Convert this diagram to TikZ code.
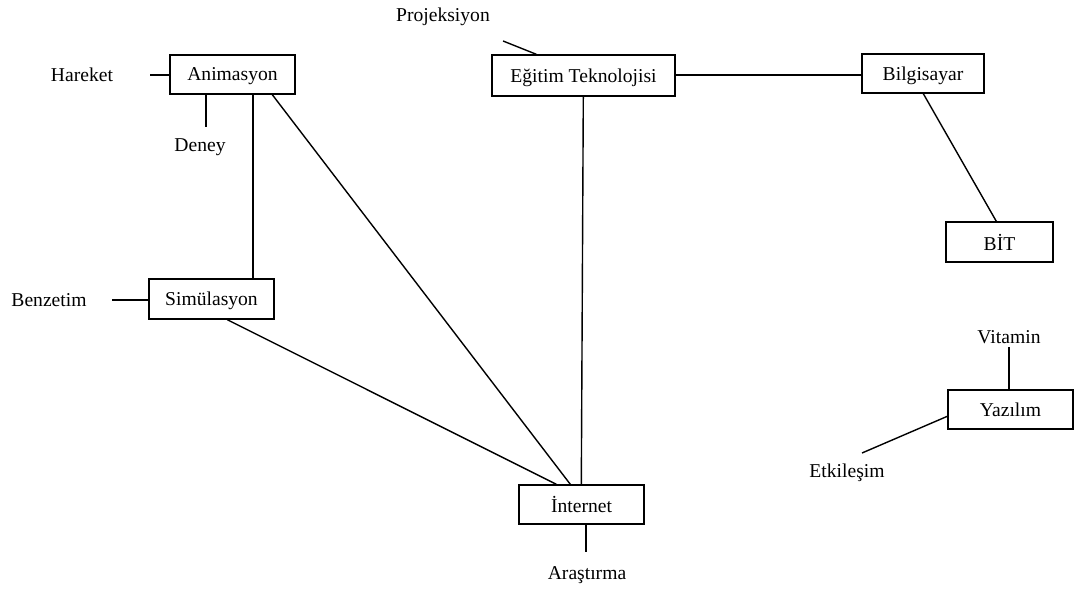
\documentclass[tikz,border=0pt]{standalone}
\usepackage{fontspec}
\setmainfont{Liberation Serif}
\usetikzlibrary{calc}
\begin{document}
\begin{tikzpicture}[x=0.5pt,y=-0.5pt,
  every node/.style={font=\fontsize{9.8pt}{11pt}\selectfont},
  concept/.style={draw,line width=0.7pt,rectangle,inner sep=0pt,text depth=0pt,anchor=center},
  term/.style={inner sep=0pt,anchor=center},
  link/.style={line width=0.7pt}]
\useasboundingbox (0,0) rectangle (1074,588);

% main concepts in boxes
\node[concept,minimum width=62.5pt,minimum height=19.5pt] (anim) at (232.5,74.5) {Animasyon};
\node[concept,minimum width=91.5pt,minimum height=20.5pt] (egt)  at (583.5,75.5) {Eğitim Teknolojisi};
\node[concept,minimum width=61pt,minimum height=19.5pt]   (bilg) at (923,73.5)   {Bilgisayar};
\node[concept,minimum width=53.5pt,minimum height=20pt]   (bit)  at (999.5,242)  {BİT};
\node[concept,minimum width=62.5pt,minimum height=20pt]   (sim)  at (211.5,299)  {Simülasyon};
\node[concept,minimum width=62.5pt,minimum height=19.5pt] (inet) at (581.5,504.5) {İnternet};
\node[concept,minimum width=62.5pt,minimum height=19.5pt] (yaz)  at (1010.5,409.5) {Yazılım};

% free-standing terms
\node[term] (hareket)   at (82,75)   {Hareket};
\node[term] (deney)     at (200,147) {Deney};
\node[term] (proj)      at (443,17)  {Projeksiyon};
\node[term] (benzetim)  at (49,300)  {Benzetim};
\node[term] (arastirma) at (587,575) {Araştırma};
\node[term] (vitamin)   at (1009,337) {Vitamin};
\node[term] (etkilesim) at (847,473) {Etkileşim};

% loose ends of the short ticks
\coordinate (hkend)  at (150,75);
\coordinate (dnend)  at (206,127);
\coordinate (prend)  at (503,41);
\coordinate (bzend)  at (112,300);
\coordinate (arend)  at (586,552);
\coordinate (vtend)  at (1009,347);
\coordinate (etend)  at (862,453);

% ticks towards the free terms
\draw[link] (hkend) -- (hkend -| anim.west);
\draw[link] (anim.south -| dnend) -- (dnend);
\draw[link] (prend) -- ($(egt.north west)+(45,0)$);
\draw[link] (bzend) -- (bzend -| sim.west);
\draw[link] (inet.south -| arend) -- (arend);
\draw[link] (vtend) -- (yaz.north -| vtend);
\draw[link] ($(yaz.north west)+(0,27)$) -- (etend);

% connections between the boxes
\draw[link] ($(anim.south west)+(83.5,0)$) -- ($(sim.north west)+(104.5,0)$);
\draw[link] ($(anim.south west)+(103,0)$) -- ($(inet.north west)+(52,0)$);
\draw[link] ($(sim.south west)+(79,0)$) -- ($(inet.north west)+(38,0)$);
\draw[link] ($(egt.south west)+(92,0)$) -- ($(inet.north west)+(63,0)$);
\draw[link] ($(egt.east)+(0,-0.5)$) -- ($(egt.east -| bilg.west)+(0,-0.5)$);
\draw[link] ($(bilg.south west)+(62,0)$) -- ($(bit.north west)+(51,0)$);
\end{tikzpicture}
\end{document}
